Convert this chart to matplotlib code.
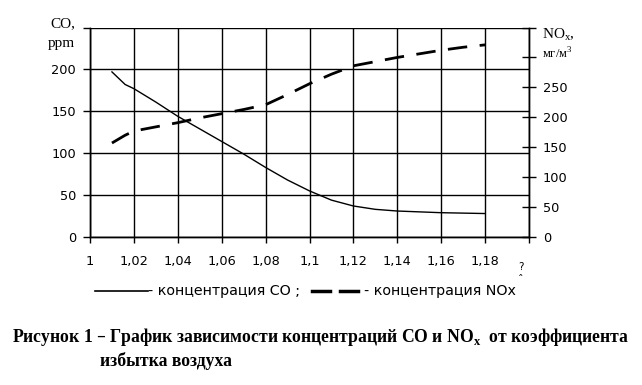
import matplotlib.pyplot as plt
from matplotlib.lines import Line2D

# alpha (air excess ratio)
alpha = [1.01, 1.016, 1.02, 1.03, 1.04, 1.05, 1.06, 1.07, 1.08, 1.09,
         1.10, 1.11, 1.12, 1.13, 1.14, 1.15, 1.16, 1.17, 1.18]
co = [197, 182, 177, 161, 144, 129, 114, 99, 83, 68,
      55, 44, 37, 33, 31, 30, 29, 28.5, 28]
nox = [157, 170, 177, 184, 191, 199, 206, 213, 221, 238,
       256, 272, 286, 293, 300, 306, 312, 317, 321]

x_ticks = [1.0, 1.02, 1.04, 1.06, 1.08, 1.1, 1.12, 1.14, 1.16, 1.18, 1.2]
x_labels = ["1", "1,02", "1,04", "1,06", "1,08", "1,1", "1,12", "1,14", "1,16", "1,18", ""]
co_ticks = [0, 50, 100, 150, 200, 250]
co_labels = ["0", "50", "100", "150", "200", ""]
nox_ticks = [0, 50, 100, 150, 200, 250, 300, 350]
nox_labels = ["0", "50", "100", "150", "200", "250", "", ""]

W, H = 642, 385
fig = plt.figure(figsize=(6.42, 3.85), dpi=100)
ax = fig.add_axes([90 / W, 1 - 237 / H, (529 - 90) / W, (237 - 27.5) / H])
ax2 = ax.twinx()

sans = "DejaVu Sans"
serif = "Liberation Serif"
fs = 9.3

ax.plot(alpha, co, color="black", lw=1.0)
ax2.plot(alpha, nox, color="black", lw=2.0, dashes=(7, 4.5))

ax.set_xlim(1.0, 1.2)
ax.set_ylim(0, 250)
ax2.set_ylim(0, 350)

ax.set_xticks(x_ticks)
ax.set_xticklabels(x_labels, fontname=sans, fontsize=fs)
ax.set_yticks(co_ticks)
ax.set_yticklabels(co_labels, fontname=sans, fontsize=fs)
ax2.set_yticks(nox_ticks)
ax2.set_yticklabels(nox_labels, fontname=sans, fontsize=fs)

ax.grid(True, color="black", lw=1.0)
ax.tick_params(axis="x", direction="out", length=4, width=1, pad=9)
ax.tick_params(axis="y", direction="out", length=5, width=1, pad=5)
ax2.tick_params(axis="y", direction="inout", length=10, width=1, pad=5)

for a in (ax, ax2):
    for s in a.spines.values():
        s.set_linewidth(1.0)
    a.spines["top"].set_visible(False)

# axis titles
fig.text(50 / W, 1 - 24 / H, "CO,", fontname=serif, fontsize=11, va="center")
fig.text(48 / W, 1 - 44 / H, "ppm", fontname=serif, fontsize=11, va="center")
fig.text(542 / W, 1 - 35 / H, "NO$_\\mathregular{x}$,", fontname=serif, fontsize=11, va="center")
fig.text(542 / W, 1 - 54 / H, "мг/м$^\\mathregular{3}$", fontname=serif, fontsize=9, va="center")

# lost alpha glyph
fig.text(521 / W, 1 - 267 / H, "?", fontname=sans, fontsize=7.5, ha="center", va="center")
fig.text(521 / W, 1 - 280 / H, "ˆ", fontname=sans, fontsize=8, ha="center", va="center")

# legend line under the chart
ly = 1 - 291 / H
fig.add_artist(Line2D([95 / W, 148 / W], [ly, ly], color="black", lw=1.2))
fig.text(148 / W, ly, "- концентрация CO ;", fontname=sans, fontsize=10.3, va="center")
for x0, x1 in [(312, 330), (340, 358)]:
    fig.add_artist(Line2D([x0 / W, x1 / W], [ly, ly], color="black", lw=2.5))
fig.text(364 / W, ly, "- концентрация NOx", fontname=sans, fontsize=10.3, va="center")

# caption
fig.text(12 / W, 1 - 337 / H,
         "Рисунок 1 – График зависимости концентраций CO и NO$_\\mathregular{x}$  от коэффициента",
         fontname=serif, fontweight="bold", fontsize=12.7, va="center")
fig.text(100 / W, 1 - 361 / H, "избытка воздуха",
         fontname=serif, fontweight="bold", fontsize=12.7, va="center")

fig.savefig("out.png", dpi=100)
